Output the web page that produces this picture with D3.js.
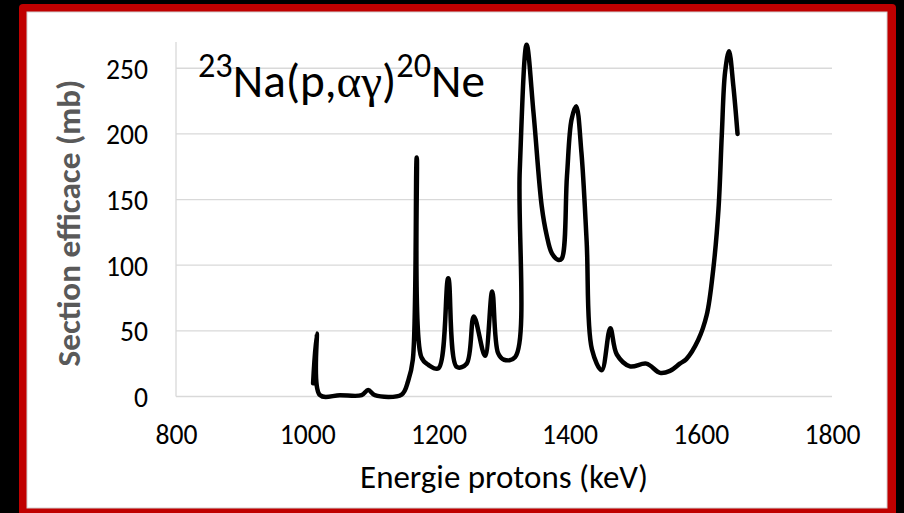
<!DOCTYPE html>
<html>
<head>
<meta charset="utf-8">
<script src="https://cdn.jsdelivr.net/npm/d3@7"></script>
<style>
  html, body { margin: 0; padding: 0; background: #000; }
  svg { display: block; }
  text { font-family: Carlito, Lato, "Open Sans", sans-serif; }
</style>
</head>
<body>
<svg id="chart" width="904" height="513"></svg>
<script>
// ---- data ----
const energy = [1009, 1014.5, 1019.5, 1050, 1083, 1093, 1103, 1144, 1154, 1161, 1167, 1174, 1185, 1200,
  1215, 1228, 1243, 1254, 1271, 1282, 1291, 1300, 1317, 1324, 1334.5, 1345, 1357.5, 1365, 1373, 1383, 1388,
  1396, 1403, 1410, 1418, 1426, 1434, 1449, 1462, 1472, 1492, 1517, 1538, 1553, 1568, 1578, 1596, 1609,
  1619, 1627, 1632, 1637, 1643, 1649.5, 1656];
const crossSection = [10, 48, 1, 1, 1, 5, 1, 1.5, 12, 28, 182, 30, 24, 21.5,
  90, 22.5, 25, 61, 31, 80, 33, 28, 30, 172, 268, 216, 145, 123, 109, 104, 105,
  168, 211, 221, 186, 118, 36, 20, 52, 32, 23, 25, 18, 19.5, 25, 28.5, 43, 62,
  97, 143, 199, 247, 263, 237, 200];
const xTicks = [800, 1000, 1200, 1400, 1600, 1800];
const yTicks = [0, 50, 100, 150, 200, 250];
const xTitle = "Energie protons (keV)";
const yTitle = "Section efficace (mb)";

const svg = d3.select("#chart");

// frame
svg.append("rect").attr("x", 0).attr("y", 0).attr("width", 904).attr("height", 513).attr("fill", "#000");
svg.append("rect").attr("x", 19).attr("y", 4).attr("width", 877).attr("height", 515).attr("rx", 4).attr("fill", "#c00000");
svg.append("rect").attr("x", 27).attr("y", 12).attr("width", 860).attr("height", 496).attr("fill", "#fff")
  .attr("stroke", "#d0d0d0").attr("stroke-width", 1);

const x = d3.scaleLinear().domain([800, 1800]).range([176, 832]);
const y = d3.scaleLinear().domain([0, 270]).range([396.5, 42]);

// gridlines
svg.append("g").selectAll("line").data(yTicks.filter(d => d > 0)).join("line")
  .attr("x1", x(800)).attr("x2", x(1800))
  .attr("y1", d => y(d)).attr("y2", d => y(d))
  .attr("stroke", "#d9d9d9").attr("stroke-width", 1.3);

// axis lines
svg.append("line").attr("x1", x(800)).attr("x2", x(800)).attr("y1", y(270)).attr("y2", y(0))
  .attr("stroke", "#d9d9d9").attr("stroke-width", 1.3);
svg.append("line").attr("x1", x(800)).attr("x2", x(1800)).attr("y1", y(0)).attr("y2", y(0))
  .attr("stroke", "#d9d9d9").attr("stroke-width", 1.3);

// helper to fit text width
function fitSize(node, fs, target) {
  const len = node.getComputedTextLength();
  return fs * target / len;
}

// x axis labels
const gx = svg.append("g").attr("transform", `translate(0,${y(0)})`)
  .call(d3.axisBottom(x).tickValues(xTicks).tickSize(0).tickFormat(d3.format("d")));
gx.select(".domain").remove();
gx.selectAll("text").attr("y", 47).attr("dy", 0).attr("font-size", 24)
  .attr("font-family", "Carlito, Lato, sans-serif").attr("fill", "#000");

// y axis labels
const gy = svg.append("g").attr("transform", `translate(${x(800)},0)`)
  .call(d3.axisLeft(y).tickValues(yTicks).tickSize(0).tickFormat(d3.format("d")));
gy.select(".domain").remove();
gy.selectAll("text").attr("x", -28).attr("dy", "0.36em").attr("font-size", 24)
  .attr("font-family", "Carlito, Lato, sans-serif").attr("fill", "#000");

// scale tick font so "250" is ~42px wide
const ref = gy.selectAll("text").filter(d => d === 250).node();
const tickFs = fitSize(ref, 24, 42);
gx.selectAll("text").attr("font-size", tickFs);
gy.selectAll("text").attr("font-size", tickFs);

// axis titles
const xt = svg.append("text").attr("x", 504).attr("y", 488).attr("text-anchor", "middle")
  .attr("font-size", 26).attr("fill", "#000").text(xTitle);
xt.attr("font-size", fitSize(xt.node(), 26, 288));

const yt = svg.append("text").attr("transform", "translate(80,223) rotate(-90)").attr("text-anchor", "middle")
  .attr("font-size", 24).attr("font-weight", "bold").attr("fill", "#595959").text(yTitle);
yt.attr("font-size", fitSize(yt.node(), 24, 287));

// curve
const line = d3.line()
  .x((d, i) => x(energy[i]))
  .y((d, i) => y(crossSection[i]))
  .curve(d3.curveCatmullRom.alpha(0.5));
svg.append("path").attr("d", line(energy)).attr("fill", "none")
  .attr("stroke", "#000").attr("stroke-width", 4.5)
  .attr("stroke-linejoin", "round").attr("stroke-linecap", "round");

// reaction label
const base = 33, sup = 24, rise = 14;
const t = svg.append("text").attr("x", 198).attr("y", 97).attr("font-size", base).attr("fill", "#000");
const parts = [
  { s: "23", sup: true }, { s: "Na(p,", sup: false }, { s: "αγ", sup: false, serif: true },
  { s: ")", sup: false }, { s: "20", sup: true }, { s: "Ne", sup: false }
];
let prevSup = false;
const spans = parts.map(p => {
  const sp = t.append("tspan").text(p.s);
  if (p.sup) sp.attr("font-size", sup);
  if (p.serif) sp.attr("font-family", "'Liberation Serif', 'DejaVu Serif', serif");
  const dy = (p.sup && !prevSup) ? -rise : (!p.sup && prevSup) ? rise : 0;
  sp.attr("dy", dy);
  prevSup = p.sup;
  return { sp, p, dy };
});
const k = 287 / t.node().getComputedTextLength();
t.attr("font-size", base * k);
spans.forEach(o => {
  if (o.p.sup) o.sp.attr("font-size", sup * k);
  o.sp.attr("dy", o.dy * k);
});
</script>
</body>
</html>
